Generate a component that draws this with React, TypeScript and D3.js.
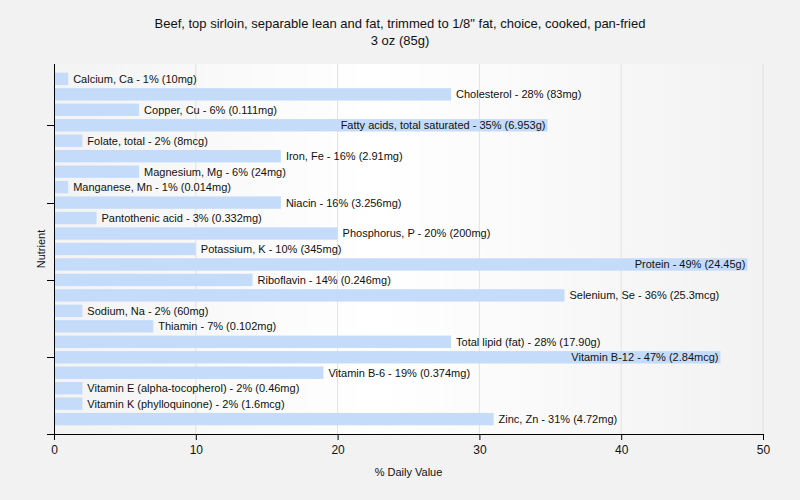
import { useEffect, useRef } from "react";
import * as d3 from "d3";

const nutrients = [
  "Calcium, Ca",
  "Cholesterol",
  "Copper, Cu",
  "Fatty acids, total saturated",
  "Folate, total",
  "Iron, Fe",
  "Magnesium, Mg",
  "Manganese, Mn",
  "Niacin",
  "Pantothenic acid",
  "Phosphorus, P",
  "Potassium, K",
  "Protein",
  "Riboflavin",
  "Selenium, Se",
  "Sodium, Na",
  "Thiamin",
  "Total lipid (fat)",
  "Vitamin B-12",
  "Vitamin B-6",
  "Vitamin E (alpha-tocopherol)",
  "Vitamin K (phylloquinone)",
  "Zinc, Zn",
];

// bar length (% daily value)
const values = [
  1, 28, 6, 34.8, 2, 16, 6, 1, 16, 3, 20, 10, 48.9, 14, 36, 2, 7, 28, 47, 19,
  2, 2, 31,
];

// rounded percent shown in the label
const percents = [
  1, 28, 6, 35, 2, 16, 6, 1, 16, 3, 20, 10, 49, 14, 36, 2, 7, 28, 47, 19, 2, 2,
  31,
];

const amounts = [
  "10mg",
  "83mg",
  "0.111mg",
  "6.953g",
  "8mcg",
  "2.91mg",
  "24mg",
  "0.014mg",
  "3.256mg",
  "0.332mg",
  "200mg",
  "345mg",
  "24.45g",
  "0.246mg",
  "25.3mcg",
  "60mg",
  "0.102mg",
  "17.90g",
  "2.84mcg",
  "0.374mg",
  "0.46mg",
  "1.6mcg",
  "4.72mg",
];

const xTicks = [0, 10, 20, 30, 40, 50];
const yTickIndex = [3, 8, 13, 18];

export default function App() {
  const svgRef = useRef<SVGSVGElement>(null);

  useEffect(() => {
    document.body.style.margin = "0";
    if (!svgRef.current) return;
    const width = 800;
    const height = 500;
    const margin = { top: 64, right: 37, bottom: 66, left: 54 };
    const font = "'Liberation Sans', Arial, sans-serif";

    const svg = d3.select(svgRef.current);
    svg.selectAll("*").remove();

    svg
      .append("rect")
      .attr("width", width)
      .attr("height", height)
      .attr("fill", "#f2f2f2");

    const grad = svg
      .append("defs")
      .append("linearGradient")
      .attr("id", "bg")
      .attr("x1", "0")
      .attr("x2", "1")
      .attr("y1", "0")
      .attr("y2", "0");
    grad.append("stop").attr("offset", "0").attr("stop-color", "#f3f3f3");
    grad.append("stop").attr("offset", "0.45").attr("stop-color", "#ffffff");
    grad.append("stop").attr("offset", "1").attr("stop-color", "#f2f2f2");

    const x = d3
      .scaleLinear()
      .domain([0, 50])
      .range([margin.left, width - margin.right]);

    const y = d3
      .scaleBand()
      .domain(nutrients)
      .range([margin.top + 2.5, height - margin.bottom - 2.5])
      .paddingInner(0.2)
      .paddingOuter(0.4);

    svg
      .append("rect")
      .attr("x", x(0))
      .attr("y", margin.top)
      .attr("width", x(50) - x(0))
      .attr("height", height - margin.top - margin.bottom)
      .attr("fill", "url(#bg)");

    // grid
    svg
      .append("g")
      .selectAll("line")
      .data(xTicks.slice(1))
      .join("line")
      .attr("x1", (d) => x(d))
      .attr("x2", (d) => x(d))
      .attr("y1", margin.top)
      .attr("y2", height - margin.bottom)
      .attr("stroke", "#e2e2e2")
      .attr("stroke-width", 1);

    // title
    const title = svg
      .append("text")
      .attr("x", 400)
      .attr("text-anchor", "middle")
      .attr("font-family", font)
      .attr("font-size", 13)
      .attr("fill", "#111");
    title.append("tspan").attr("x", 400).attr("y", 28).text(
      'Beef, top sirloin, separable lean and fat, trimmed to 1/8" fat, choice, cooked, pan-fried'
    );
    title.append("tspan").attr("x", 400).attr("y", 45).text("3 oz (85g)");

    // bars
    const rows = svg
      .append("g")
      .selectAll("g")
      .data(nutrients)
      .join("g");

    rows
      .append("rect")
      .attr("x", x(0))
      .attr("y", (d) => y(d) as number)
      .attr("width", (d, i) => x(values[i]) - x(0))
      .attr("height", y.bandwidth())
      .attr("fill", "#c4dcfa");

    rows
      .append("text")
      .attr("font-family", font)
      .attr("font-size", 11)
      .attr("fill", "#111")
      .attr("y", (d) => (y(d) as number) + y.bandwidth() / 2)
      .attr("dy", "0.36em")
      .text((d, i) => `${d} - ${percents[i]}% (${amounts[i]})`)
      .each(function (d, i) {
        const t = this as SVGTextElement;
        const w = t.getComputedTextLength();
        const end = x(values[i]);
        if (end + 5 + w > x(50) - 25) {
          d3.select(t).attr("x", end - 2).attr("text-anchor", "end");
        } else {
          d3.select(t).attr("x", end + 5).attr("text-anchor", "start");
        }
      });

    // x axis
    const xAxis = svg
      .append("g")
      .attr("transform", `translate(0,${height - margin.bottom})`)
      .call(d3.axisBottom(x).tickValues(xTicks).tickSize(6).tickSizeOuter(0));
    xAxis.select(".domain").attr("stroke", "#000").attr("d", `M${margin.left - 7},0.5H${x(50)}`);
    xAxis.selectAll(".tick line").attr("stroke", "#000");
    xAxis
      .selectAll(".tick text")
      .attr("font-family", font)
      .attr("font-size", 12)
      .attr("fill", "#111")
      .attr("dy", "0.9em");

    // y axis
    const yAxis = svg
      .append("g")
      .attr("transform", `translate(${margin.left},0)`);
    yAxis
      .append("line")
      .attr("x1", 0.5)
      .attr("x2", 0.5)
      .attr("y1", margin.top)
      .attr("y2", height - margin.bottom)
      .attr("stroke", "#000");
    yAxis
      .selectAll("line.tick")
      .data(yTickIndex)
      .join("line")
      .attr("class", "tick")
      .attr("x1", -7)
      .attr("x2", 0)
      .attr("y1", (i) => Math.round((y(nutrients[i]) as number) + y.bandwidth() / 2) + 0.5)
      .attr("y2", (i) => Math.round((y(nutrients[i]) as number) + y.bandwidth() / 2) + 0.5)
      .attr("stroke", "#000");

    // axis titles
    svg
      .append("text")
      .attr("x", (x(0) + x(50)) / 2)
      .attr("y", 476)
      .attr("text-anchor", "middle")
      .attr("font-family", font)
      .attr("font-size", 11)
      .attr("fill", "#111")
      .text("% Daily Value");

    svg
      .append("text")
      .attr(
        "transform",
        `translate(45,${(margin.top + height - margin.bottom) / 2}) rotate(-90)`
      )
      .attr("text-anchor", "middle")
      .attr("font-family", font)
      .attr("font-size", 11)
      .attr("fill", "#111")
      .text("Nutrient");
  }, []);

  return <svg ref={svgRef} width={800} height={500} style={{ display: "block" }} />;
}
